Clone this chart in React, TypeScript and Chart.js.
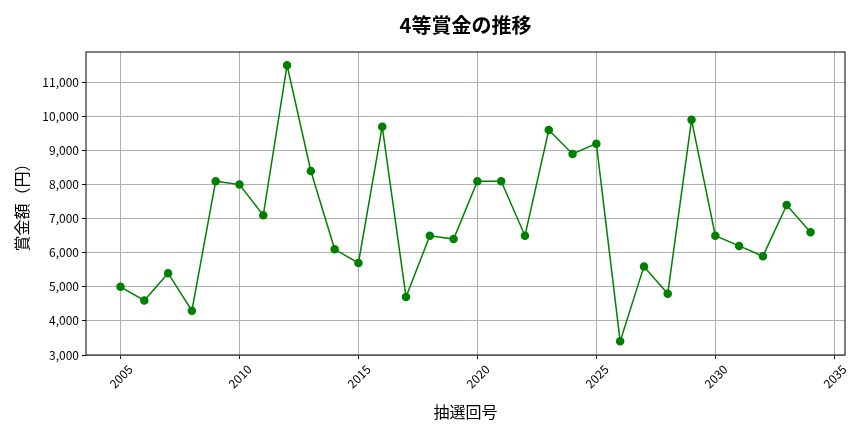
import { useEffect, useRef } from 'react';
import { Chart, registerables } from 'chart.js';

Chart.register(...registerables);

const years = [2005, 2006, 2007, 2008, 2009, 2010, 2011, 2012, 2013, 2014, 2015, 2016, 2017, 2018, 2019,
  2020, 2021, 2022, 2023, 2024, 2025, 2026, 2027, 2028, 2029, 2030, 2031, 2032, 2033, 2034];
const prizes = [5000, 4600, 5400, 4300, 8100, 8000, 7100, 11500, 8400, 6100, 5700, 9700, 4700, 6500, 6400,
  8100, 8100, 6500, 9600, 8900, 9200, 3400, 5600, 4800, 9900, 6500, 6200, 5900, 7400, 6600];
const xTicks = [2005, 2010, 2015, 2020, 2025, 2030, 2035];
const yTicks = [3000, 4000, 5000, 6000, 7000, 8000, 9000, 10000, 11000];
const chartTitle = '4等賞金の推移';

const FONT = '"Noto Sans CJK JP", "Noto Sans", sans-serif';

// axes frame on all four sides + title centred over the plot area (as matplotlib does)
const frame = {
  id: 'frame',
  afterDraw(chart: Chart) {
    const { ctx, chartArea: a } = chart;
    ctx.save();
    ctx.strokeStyle = '#000';
    ctx.lineWidth = 1;
    ctx.strokeRect(a.left, a.top, a.right - a.left, a.bottom - a.top);
    ctx.fillStyle = '#000';
    ctx.font = `bold 20px ${FONT}`;
    ctx.textAlign = 'center';
    ctx.textBaseline = 'middle';
    ctx.fillText(chartTitle, (a.left + a.right) / 2, 25);
    ctx.restore();
  },
};

export default function App() {
  const canvasRef = useRef<HTMLCanvasElement | null>(null);

  useEffect(() => {
    const canvas = canvasRef.current;
    if (!canvas) return;
    const chart = new Chart(canvas, {
      type: 'line',
      data: {
        datasets: [{
          label: '4等',
          data: years.map((y, i) => ({ x: y, y: prizes[i] })),
          borderColor: '#008000',
          backgroundColor: '#008000',
          borderWidth: 1.5,
          pointRadius: 3.5,
          pointHoverRadius: 3.5,
          tension: 0,
        }],
      },
      options: {
        animation: false,
        responsive: false,
        layout: { padding: { left: 0, right: 19, top: 52, bottom: 0 } },
        plugins: {
          legend: { display: false },
          tooltip: { enabled: false },
          title: { display: false },
        },
        scales: {
          x: {
            type: 'linear',
            min: 2003.55,
            max: 2035.45,
            afterBuildTicks: (axis: any) => { axis.ticks = xTicks.map((v) => ({ value: v })); },
            afterFit: (axis: any) => { axis.height = 77; },
            grid: { color: '#b0b0b0', tickColor: '#000', tickLength: 4 },
            border: { display: false },
            ticks: {
              color: '#000',
              font: { family: FONT, size: 12 },
              minRotation: 45,
              maxRotation: 45,
              labelOffset: 10,
              callback: (v: any) => String(v),
            },
            title: {
              display: true,
              text: '抽選回号',
              color: '#000',
              font: { family: FONT, size: 16 },
              padding: { top: 4, bottom: 10 },
            },
          },
          y: {
            type: 'linear',
            min: 3000,
            max: 11890,
            afterBuildTicks: (axis: any) => { axis.ticks = yTicks.map((v) => ({ value: v })); },
            afterFit: (axis: any) => { axis.width = 86; },
            grid: { color: '#b0b0b0', tickColor: '#000', tickLength: 4 },
            border: { display: false },
            ticks: {
              color: '#000',
              font: { family: FONT, size: 12 },
              callback: (v: any) => Number(v).toLocaleString('en-US'),
            },
            title: {
              display: true,
              text: '賞金額（円）',
              color: '#000',
              font: { family: FONT, size: 16 },
              padding: { top: 12, bottom: 0 },
            },
          },
        },
      },
      plugins: [frame],
    });
    return () => chart.destroy();
  }, []);

  return (
    <div style={{ position: 'fixed', left: 0, top: 0, width: 864, height: 432, background: '#fff' }}>
      <canvas ref={canvasRef} width={864} height={432} style={{ width: 864, height: 432 }} />
    </div>
  );
}
